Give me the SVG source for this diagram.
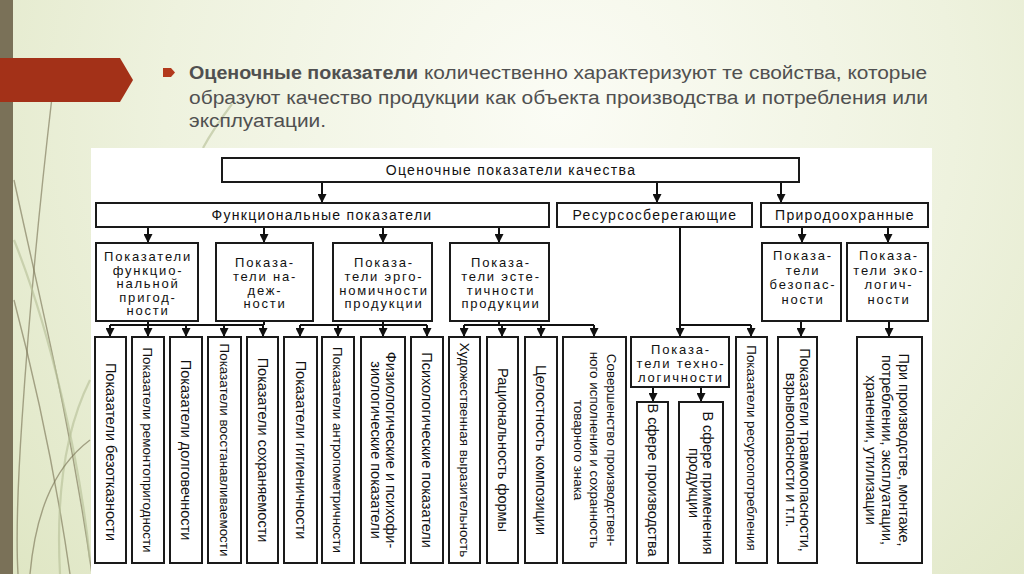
<svg xmlns="http://www.w3.org/2000/svg" width="1024" height="574" viewBox="0 0 1024 574">
<defs>
<radialGradient id="bg" cx="560" cy="110" r="720" gradientUnits="userSpaceOnUse">
<stop offset="0" stop-color="#fbfcf5"/>
<stop offset="0.55" stop-color="#eef2de"/>
<stop offset="1" stop-color="#dfe6c4"/>
</radialGradient>
<marker id="ah" markerUnits="userSpaceOnUse" markerWidth="9" markerHeight="9" refX="9" refY="4.5" orient="auto">
<path d="M0,0 L9,4.5 L0,9 z" fill="#111"/>
</marker>
<style>
.box{fill:#fff;stroke:#1a1a1a;stroke-width:2}
.t{font-family:"Liberation Sans",Arial,sans-serif;font-size:14px;fill:#111;letter-spacing:1.3px;text-anchor:middle}
.t3{font-family:"Liberation Sans",Arial,sans-serif;font-size:13px;fill:#111;letter-spacing:1.8px;text-anchor:middle}
.v{font-family:"Liberation Sans",Arial,sans-serif;font-size:14.5px;fill:#111;text-anchor:middle}
.vs{font-family:"Liberation Sans",Arial,sans-serif;font-size:13.4px;fill:#111;text-anchor:middle}
.ln{stroke:#111;stroke-width:2;fill:none}
.ar{stroke:#111;stroke-width:2;fill:none;marker-end:url(#ah)}
.hd{font-family:"Liberation Sans",Arial,sans-serif;font-size:18px;fill:#505050}
.deco{fill:none;stroke:#756e50;stroke-width:1.4;opacity:0.6}
.deco2{fill:none;stroke:#b9c19a;stroke-width:2.2;opacity:0.65}
</style>
</defs>
<rect width="1024" height="574" fill="url(#bg)"/>
<rect x="0" y="0" width="13" height="574" fill="#7a7158"/>
<g id="decoration">
<path class="deco" d="M52,97 C40,200 30,300 22,420 C18,480 16,540 18,574"/>
<path class="deco" d="M14,180 C40,300 70,420 92,574"/>
<path class="deco" d="M14,300 C35,380 55,470 70,574"/>
<path class="deco2" d="M14,240 C50,330 80,460 90,560"/>
<path class="deco2" d="M60,574 C55,480 70,420 90,380"/>
<path class="deco" d="M30,574 C35,520 50,470 90,440"/>
<path class="deco2" d="M232,104 C220,120 210,135 203,148"/>
</g>
<polygon points="0,58 120,58 133,80 120,102 0,102" fill="#a33118"/>
<polygon points="163,68 171,68 175,72.5 171,77 163,77" fill="#b2391c"/>
<g id="heading">
<text class="hd" x="189" y="79" font-weight="bold" fill="#3a3a3a" textLength="229" lengthAdjust="spacingAndGlyphs">Оценочные показатели</text>
<text class="hd" x="424" y="79" textLength="503" lengthAdjust="spacingAndGlyphs">количественно характеризуют те свойства, которые</text>
<text class="hd" x="189" y="104" textLength="739" lengthAdjust="spacingAndGlyphs">образуют качество продукции как объекта производства и потребления или</text>
<text class="hd" x="189" y="127" textLength="137" lengthAdjust="spacingAndGlyphs">эксплуатации.</text>
</g>
<rect x="91" y="148" width="841" height="426" fill="#fff"/>

<g id="connectors">
<line class="ar" x1="322" y1="182" x2="322" y2="203"/>
<line class="ar" x1="657" y1="182" x2="657" y2="203"/>
<line class="ar" x1="781" y1="182" x2="781" y2="203"/>
<line class="ar" x1="148" y1="227" x2="148" y2="243"/>
<line class="ar" x1="264" y1="227" x2="264" y2="243"/>
<line class="ar" x1="383" y1="227" x2="383" y2="243"/>
<line class="ar" x1="499" y1="227" x2="499" y2="243"/>
<line class="ar" x1="802" y1="227" x2="802" y2="243"/>
<line class="ar" x1="888" y1="227" x2="888" y2="243"/>
<path class="ln" d="M110,325 H264 M148,321 V325 M264,321 V325"/>
<line class="ar" x1="110" y1="325" x2="110" y2="337"/>
<line class="ar" x1="148" y1="325" x2="148" y2="337"/>
<line class="ar" x1="186" y1="325" x2="186" y2="337"/>
<line class="ar" x1="224" y1="325" x2="224" y2="337"/>
<line class="ar" x1="263" y1="325" x2="263" y2="337"/>
<path class="ln" d="M300,325 H427 M383,321 V325"/>
<line class="ar" x1="300" y1="325" x2="300" y2="337"/>
<line class="ar" x1="338" y1="325" x2="338" y2="337"/>
<line class="ar" x1="383" y1="325" x2="383" y2="337"/>
<line class="ar" x1="427" y1="325" x2="427" y2="337"/>
<path class="ln" d="M464,325 H594 M499,321 V325"/>
<line class="ar" x1="464" y1="325" x2="464" y2="337"/>
<line class="ar" x1="502" y1="325" x2="502" y2="337"/>
<line class="ar" x1="541" y1="325" x2="541" y2="337"/>
<line class="ar" x1="594" y1="325" x2="594" y2="337"/>
<path class="ln" d="M680,227 V325 H751"/>
<line class="ar" x1="680" y1="325" x2="680" y2="337"/>
<line class="ar" x1="751" y1="325" x2="751" y2="337"/>
<line class="ar" x1="801" y1="321" x2="801" y2="337"/>
<line class="ar" x1="889" y1="321" x2="889" y2="337"/>
<line class="ar" x1="653" y1="387" x2="653" y2="402"/>
<line class="ar" x1="701" y1="387" x2="701" y2="402"/>
</g>

<g id="n-root"><rect class="box" x="222" y="158" width="577" height="24"/><text class="t" x="511" y="175">Оценочные показатели качества</text></g>
<g id="n-func"><rect class="box" x="96" y="203" width="453" height="24"/><text class="t" x="322" y="220">Функциональные показатели</text></g>
<g id="n-res"><rect class="box" x="557" y="203" width="195" height="24"/><text class="t" x="655" y="220">Ресурсосберегающие</text></g>
<g id="n-nat"><rect class="box" x="761" y="203" width="167" height="24"/><text class="t" x="845" y="220">Природоохранные</text></g>

<g id="n-prig"><rect class="box" x="96" y="243" width="102" height="78"/><text class="t3" x="148" y="261">Показатели<tspan x="148" dy="13.6">функцио-</tspan><tspan x="148" dy="13.6">нальной</tspan><tspan x="148" dy="13.6">пригод-</tspan><tspan x="148" dy="13.6">ности</tspan></text></g>
<g id="n-nad"><rect class="box" x="216" y="243" width="97" height="78"/><text class="t3" x="265" y="267">Показа-<tspan x="265" dy="13.8">тели на-</tspan><tspan x="265" dy="13.8">деж-</tspan><tspan x="265" dy="13.8">ности</tspan></text></g>
<g id="n-erg"><rect class="box" x="333" y="243" width="99" height="78"/><text class="t3" x="384" y="267">Показа-<tspan x="384" dy="13.8">тели эрго-</tspan><tspan x="384" dy="13.8">номичности</tspan><tspan x="384" dy="13.8">продукции</tspan></text></g>
<g id="n-est"><rect class="box" x="450" y="243" width="99" height="78"/><text class="t3" x="501" y="267">Показа-<tspan x="501" dy="13.8">тели эсте-</tspan><tspan x="501" dy="13.8">тичности</tspan><tspan x="501" dy="13.8">продукции</tspan></text></g>
<g id="n-bez"><rect class="box" x="762" y="243" width="79" height="78"/><text class="t3" x="803" y="260">Показа-<tspan x="803" dy="14.5">тели</tspan><tspan x="803" dy="14.5">безопас-</tspan><tspan x="803" dy="14.5">ности</tspan></text></g>
<g id="n-eko"><rect class="box" x="847" y="243" width="81" height="78"/><text class="t3" x="889" y="260">Показа-<tspan x="889" dy="14.5">тели эко-</tspan><tspan x="889" dy="14.5">логич-</tspan><tspan x="889" dy="14.5">ности</tspan></text></g>

<g id="n-b1"><rect class="box" x="95" y="337" width="31" height="226"/><text class="v" transform="translate(110.5,452) rotate(90)" dy="5">Показатели безотказности</text></g>
<g id="n-b2"><rect class="box" x="132" y="337" width="32" height="226"/><text class="vs" transform="translate(148,450) rotate(90)" dy="5">Показатели ремонтопригодности</text></g>
<g id="n-b3"><rect class="box" x="170" y="337" width="32" height="226"/><text class="v" transform="translate(186,450) rotate(90)" dy="5">Показатели долговечности</text></g>
<g id="n-b4"><rect class="box" x="208" y="337" width="33" height="226"/><text class="vs" transform="translate(224.5,450) rotate(90)" dy="5">Показатели восстанавливаемости</text></g>
<g id="n-b5"><rect class="box" x="247" y="337" width="31" height="226"/><text class="v" transform="translate(262.5,450) rotate(90)" dy="5">Показатели сохраняемости</text></g>
<g id="n-b6"><rect class="box" x="284" y="337" width="33" height="226"/><text class="v" transform="translate(300.5,450) rotate(90)" dy="5">Показатели гигиеничности</text></g>
<g id="n-b7"><rect class="box" x="322" y="337" width="32" height="226"/><text class="vs" transform="translate(338,450) rotate(90)" dy="5">Показатели антропометричности</text></g>
<g id="n-b8"><rect class="box" x="361" y="337" width="44" height="226"/><text class="v" transform="translate(383,450) rotate(90)"><tspan x="0" y="-3">Физиологические и психофи-</tspan><tspan x="0" y="12">зиологические показатели</tspan></text></g>
<g id="n-b9"><rect class="box" x="411" y="337" width="32" height="226"/><text class="v" transform="translate(427,450) rotate(90)" dy="5">Психологические показатели</text></g>
<g id="n-b10"><rect class="box" x="449" y="337" width="31" height="226"/><text class="vs" transform="translate(464.5,450) rotate(90)" dy="5">Художественная выразительность</text></g>
<g id="n-b11"><rect class="box" x="487" y="337" width="31" height="226"/><text class="v" transform="translate(502.5,450) rotate(90)" dy="5">Рациональность формы</text></g>
<g id="n-b12"><rect class="box" x="525" y="337" width="32" height="226"/><text class="v" transform="translate(541,450) rotate(90)" dy="5">Целостность композиции</text></g>
<g id="n-b13"><rect class="box" x="563" y="337" width="63" height="226"/><text class="vs" transform="translate(594.5,450) rotate(90)"><tspan x="0" y="-12">Совершенство производствен-</tspan><tspan x="0" y="4.5">ного исполнения и сохранность</tspan><tspan x="0" y="21">товарного знака</tspan></text></g>
<g id="n-tech"><rect class="box" x="631" y="337" width="98" height="50"/><text class="t3" x="681" y="354">Показа-<tspan x="681" dy="13.8">тели техно-</tspan><tspan x="681" dy="13.8">логичности</tspan></text></g>
<g id="n-b14"><rect class="box" x="637" y="402" width="31" height="161"/><text class="v" transform="translate(652.5,480) rotate(90)" dy="5">В сфере производства</text></g>
<g id="n-b15"><rect class="box" x="679" y="402" width="44" height="161"/><text class="v" transform="translate(701,483) rotate(90)"><tspan x="0" y="-2">В сфере применения</tspan><tspan x="0" y="12">продукции</tspan></text></g>
<g id="n-b16"><rect class="box" x="736" y="337" width="31" height="226"/><text class="vs" transform="translate(751.5,448) rotate(90)" dy="5">Показатели ресурсопотребления</text></g>
<g id="n-b17"><rect class="box" x="778" y="337" width="39" height="226"/><text class="v" transform="translate(797.5,450) rotate(90)"><tspan x="0" y="-2">Показатели травмоопасности,</tspan><tspan x="0" y="11.5">взрывоопасности и т.п.</tspan></text></g>
<g id="n-b18"><rect class="box" x="857" y="337" width="65" height="226"/><text class="v" transform="translate(889.5,450) rotate(90)"><tspan x="0" y="-9">При производстве, монтаже,</tspan><tspan x="0" y="7.5">потреблении, эксплуатации,</tspan><tspan x="0" y="24">хранении, утилизации</tspan></text></g>
</svg>
